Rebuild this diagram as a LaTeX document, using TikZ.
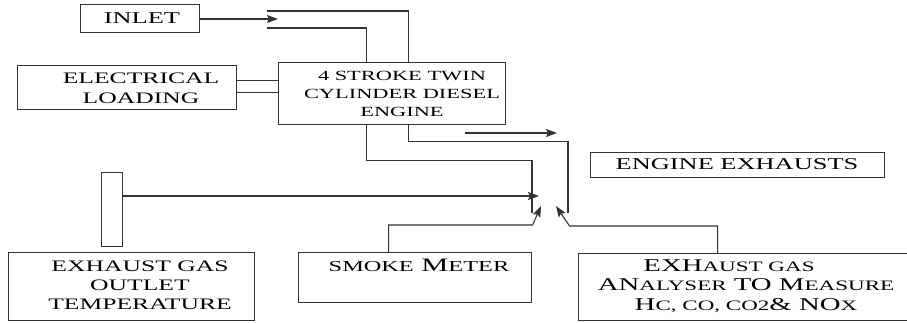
\documentclass[tikz,border=0pt]{standalone}
\usepackage{fontspec}
\setmainfont{Liberation Serif}[FakeStretch=1.6]
\usepackage{tikz}
\usetikzlibrary{arrows.meta, positioning, calc}
\tikzstyle{block} = [rectangle, draw=black!80, line width=1.1pt, inner sep=0pt, anchor=north west]
\tikzstyle{txt} = [align=center, inner sep=0pt, text=black]
\tikzstyle{link} = [draw=black!80, line width=1.1pt]
\tikzstyle{arrow} = [link, -{Stealth[length=11pt, width=8pt, inset=2pt]}]
\newcommand{\sm}[1]{\scalebox{0.8}{#1}}

\begin{document}
\begin{tikzpicture}[x=1pt, y=-1pt]
            \useasboundingbox (0,0) rectangle (907,322);
            \clip (0,0) rectangle (907,322);

            % Inputs
            \node (inlet) [block, minimum width=119pt, minimum height=28pt] at (80,4) {};
            \node (inlet-t) [txt, font=\fontsize{16.5}{20}\selectfont] at (142,18) {INLET};
            \node (electrical) [block, minimum width=219pt, minimum height=44pt] at (17,65) {};
            \node (electrical-t) [txt, font=\fontsize{16}{20}\selectfont] at (141,88) {ELECTRICAL\\LOADING};

            % Engine
            \node (engine) [block, minimum width=227pt, minimum height=62pt] at (278,62) {};
            \node (engine-t) [txt, font=\fontsize{14}{18}\selectfont] at (402,94) {4 STROKE TWIN\\CYLINDER DIESEL\\ENGINE};
            \node (exhausts) [block, minimum width=294pt, minimum height=25pt] at (590,152) {};
            \node (exhausts-t) [txt, font=\fontsize{16.5}{20}\selectfont] at (737,164) {ENGINE EXHAUSTS};

            % Measurement
            \node (thermometer) [block, minimum width=21pt, minimum height=74pt] at (101,172) {};
            \node (temperature) [block, minimum width=246pt, minimum height=68pt] at (8,252) {};
            \node (temperature-t) [txt, font=\fontsize{16}{19}\selectfont] at (140,285) {EXHAUST GAS\\OUTLET\hspace*{12pt}\\TEMPERATURE};
            \node (smokemeter) [block, minimum width=233pt, minimum height=50pt] at (298,252) {};
            \node (smokemeter-t) [txt, font=\fontsize{19}{22}\selectfont] at (419,265) {\sm{SMOKE} M\sm{ETER}};
            \node (analyser) [block, minimum width=340pt, minimum height=67pt] at (578,253) {};
            \node (analyser-t) [txt, font=\fontsize{18}{19.5}\selectfont] at (746,286) {EXH\sm{AUST GAS}\hspace*{34pt}\\AN\sm{ALYSER} TO M\sm{EASURE}\\H\sm{C, CO, CO2}\& NO\sm{X}};

            % Free ends
            \coordinate (in-tip) at (278,19);
            \coordinate (air-a) at (267,11);
            \coordinate (air-b) at (267,28);
            \coordinate (hub-l) at (532,213);
            \coordinate (hub-r) at (568,213);
            \coordinate (ex-a) at (465,133);
            \coordinate (ex-b) at (557,133);
            \coordinate (t-tip) at (539,196);
            \coordinate (s-tip) at (541,206);
            \coordinate (a-tip) at (556,206);

            % Arrows
            \draw [arrow] (inlet.east |- in-tip) -- (in-tip);
            \draw [link] (air-a) -| ($(engine.north)+(16.5,0)$);
            \draw [link] (air-b) -| ($(engine.north)+(-25.5,0)$);
            \draw [link] ($(electrical.east)+(0,-7)$) coordinate (e1) -- (engine.west |- e1);
            \draw [link] ($(electrical.east)+(0,5)$) coordinate (e2) -- (engine.west |- e2);
            \draw [link] ($(engine.south)+(-25.5,0)$) -- ++(0,35) -| (hub-l);
            \draw [link] ($(engine.south)+(16.5,0)$) -- ++(0,16) -| (hub-r);
            \draw [arrow] (ex-a) -- (ex-b);
            \draw [arrow] (thermometer.east |- t-tip) -- (t-tip);
            \draw [arrow] ($(smokemeter.north)+(-26.5,0)$) -- ++(0,-27) -- ++(144,0) -- (s-tip);
            \draw [arrow] ($(analyser.north)+(-31,0)$) -- ++(0,-27) -- ++(-148,0) -- (a-tip);
        \end{tikzpicture}
\end{document}
